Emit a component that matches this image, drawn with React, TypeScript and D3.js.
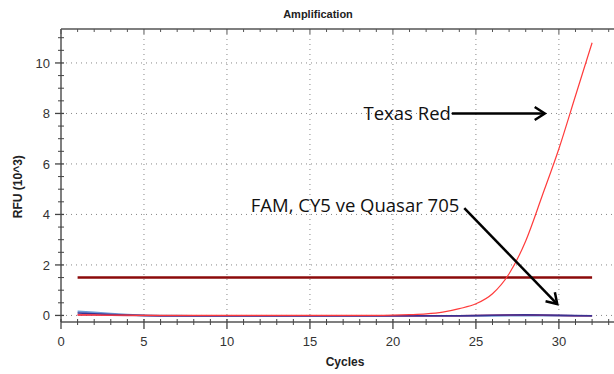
import * as d3 from "d3";

const cycles = [1, 2, 3, 4, 5, 6, 7, 8, 9, 10, 11, 12, 13, 14, 15, 16, 17, 18, 19, 20, 21, 22, 23, 24, 25, 26, 27, 28, 29, 30, 31, 32];
const texasRed = [0.02, 0.02, 0.01, 0.01, 0, 0, 0, 0, 0, 0, 0, 0, 0, 0, 0, 0, 0, 0, 0, 0.01, 0.03, 0.06, 0.13, 0.27, 0.46, 0.86, 1.65, 2.95, 4.75, 6.6, 8.7, 10.8];
const famCurve = [0.16, 0.12, 0.07, 0.03, 0, -0.01, -0.01, -0.02, -0.02, -0.02, -0.02, -0.02, -0.02, -0.02, -0.02, -0.02, -0.02, -0.02, -0.02, -0.02, -0.02, -0.02, -0.02, -0.02, -0.02, -0.01, 0, 0.01, 0, -0.01, -0.02, -0.02];
const cy5Curve = [0.1, 0.07, 0.04, 0.02, 0, -0.01, -0.01, -0.01, -0.01, -0.01, -0.01, -0.01, -0.01, -0.01, -0.01, -0.01, -0.01, -0.01, -0.01, -0.01, -0.01, -0.01, -0.01, -0.01, 0, 0.01, 0.02, 0.03, 0.02, 0.01, 0, -0.01];
const quasarCurve = [0.02, 0.02, 0.01, 0, 0, -0.01, -0.01, -0.01, -0.01, -0.01, -0.01, -0.01, -0.01, -0.01, -0.01, -0.01, -0.01, -0.01, -0.01, -0.01, -0.01, -0.01, -0.01, -0.01, 0, 0.01, 0.02, 0.02, 0.01, 0, -0.01, -0.01];
const threshold = 1.5;

const xMajor = [0, 5, 10, 15, 20, 25, 30];
const yMajor = [0, 2, 4, 6, 8, 10];
const xMinor = d3.range(0, 34, 1);
const yMinor = d3.range(0, 11.5, 0.5);

const W = 614;
const H = 374;
const left = 61;
const right = 614;
const top = 29;
const bottom = 322;

function arrowHead(x1: number, y1: number, x2: number, y2: number, len = 12) {
  const a = Math.atan2(y2 - y1, x2 - x1);
  const s = Math.PI / 5.5;
  const p1 = [x2 - len * Math.cos(a - s), y2 - len * Math.sin(a - s)];
  const p2 = [x2 - len * Math.cos(a + s), y2 - len * Math.sin(a + s)];
  return `M${p1[0]},${p1[1]}L${x2},${y2}L${p2[0]},${p2[1]}`;
}

export default function App() {
  const x = d3.scaleLinear().domain([0, 33.32]).range([left, right]);
  const y = d3.scaleLinear().domain([-0.26, 11.345]).range([bottom, top]);

  const line = (vals: number[]) =>
    d3
      .line<number>()
      .x((_, i) => x(cycles[i]))
      .y((d) => y(d))(vals) || "";

  const redLine = d3
    .line<number>()
    .x((_, i) => x(cycles[i]))
    .y((d) => y(d))
    .curve(d3.curveMonotoneX)(texasRed) || "";

  // arrow annotations (data coordinates)
  const a1 = { x1: x(23.55), y1: y(8), x2: x(29.15), y2: y(8) };
  const a2 = { x1: x(24.3), y1: y(4.25), x2: x(29.9), y2: y(0.45) };

  return (
    <svg width={W} height={H} style={{ position: "absolute", left: 0, top: 0, background: "#fff" }}>
      <text x={318} y={18} textAnchor="middle" fontFamily="Liberation Sans, Arial" fontWeight="bold" fontSize={11} fill="#222">
        Amplification
      </text>

      {/* grid */}
      {xMajor.filter((d) => d > 0).map((d) => (
        <line key={"gx" + d} x1={x(d)} x2={x(d)} y1={top} y2={bottom} stroke="#888" strokeDasharray="1,4" />
      ))}
      {yMajor.map((d) => (
        <line key={"gy" + d} x1={left} x2={right} y1={y(d)} y2={y(d)} stroke="#888" strokeDasharray="1,4" />
      ))}

      {/* frame */}
      <line x1={left} x2={right} y1={top} y2={top} stroke="#555" strokeWidth={1.5} />
      <line x1={left} x2={left} y1={top} y2={bottom} stroke="#555" strokeWidth={1.5} />
      <line x1={left} x2={right} y1={bottom} y2={bottom} stroke="#555" strokeWidth={1.5} />

      {/* top ticks */}
      {xMinor.map((d) => (
        <line key={"tt" + d} x1={x(d)} x2={x(d)} y1={top} y2={top + (d % 5 === 0 ? 5 : 3)} stroke="#555" />
      ))}
      {/* bottom ticks */}
      {xMinor.map((d) => (
        <line key={"bt" + d} x1={x(d)} x2={x(d)} y1={bottom - 3} y2={bottom + (d % 5 === 0 ? 7 : 3)} stroke="#444" strokeWidth={d % 5 === 0 ? 1.3 : 1} />
      ))}
      {/* left ticks */}
      {yMinor.map((d) => (
        <line key={"lt" + d} x1={left - (d % 2 === 0 ? 6 : 3)} x2={left + 3} y1={y(d)} y2={y(d)} stroke="#444" strokeWidth={d % 2 === 0 ? 1.3 : 1} />
      ))}

      {/* tick labels */}
      {xMajor.map((d) => (
        <text key={"xl" + d} x={x(d)} y={346} textAnchor="middle" fontFamily="Liberation Sans, Arial" fontSize={13} fill="#333">
          {d}
        </text>
      ))}
      {yMajor.map((d) => (
        <text key={"yl" + d} x={50} y={y(d) + 5} textAnchor="end" fontFamily="Liberation Sans, Arial" fontSize={13} fill="#333">
          {d}
        </text>
      ))}

      <text x={345} y={366} textAnchor="middle" fontFamily="Liberation Sans, Arial" fontWeight="bold" fontSize={12} fill="#222">
        Cycles
      </text>
      <text transform={`translate(22,${y(5.1)}) rotate(-90)`} textAnchor="middle" fontFamily="Liberation Sans, Arial" fontWeight="bold" fontSize={12} fill="#222">
        RFU (10^3)
      </text>

      {/* threshold */}
      <line x1={x(cycles[0])} x2={x(cycles[cycles.length - 1])} y1={y(threshold)} y2={y(threshold)} stroke="#8b0a0a" strokeWidth={2.5} />

      {/* curves */}
      <path d={line(famCurve)} fill="none" stroke="#6f9bd6" strokeWidth={2} />
      <path d={line(quasarCurve)} fill="none" stroke="#c8306a" strokeWidth={1.5} />
      <path d={line(cy5Curve)} fill="none" stroke="#3b3190" strokeWidth={1.5} />
      <path d={redLine} fill="none" stroke="#ff3b3b" strokeWidth={1.2} />

      {/* annotations */}
      <text x={a1.x1 - 1} y={a1.y1 + 6.5} textAnchor="end" fontFamily="Open Sans, sans-serif" fontSize={18.5} fill="#111">
        Texas Red
      </text>
      <line x1={a1.x1} y1={a1.y1} x2={a1.x2} y2={a1.y2} stroke="#000" strokeWidth={2.5} />
      <path d={arrowHead(a1.x1, a1.y1, a1.x2, a1.y2)} fill="none" stroke="#000" strokeWidth={2.5} />

      <text x={a2.x1 - 5} y={a2.y1 + 4} textAnchor="end" fontFamily="Open Sans, sans-serif" fontSize={18.5} fill="#111">
        FAM, CY5 ve Quasar 705
      </text>
      <line x1={a2.x1} y1={a2.y1} x2={a2.x2} y2={a2.y2} stroke="#000" strokeWidth={2.5} />
      <path d={arrowHead(a2.x1, a2.y1, a2.x2, a2.y2)} fill="none" stroke="#000" strokeWidth={2.5} />
    </svg>
  );
}
